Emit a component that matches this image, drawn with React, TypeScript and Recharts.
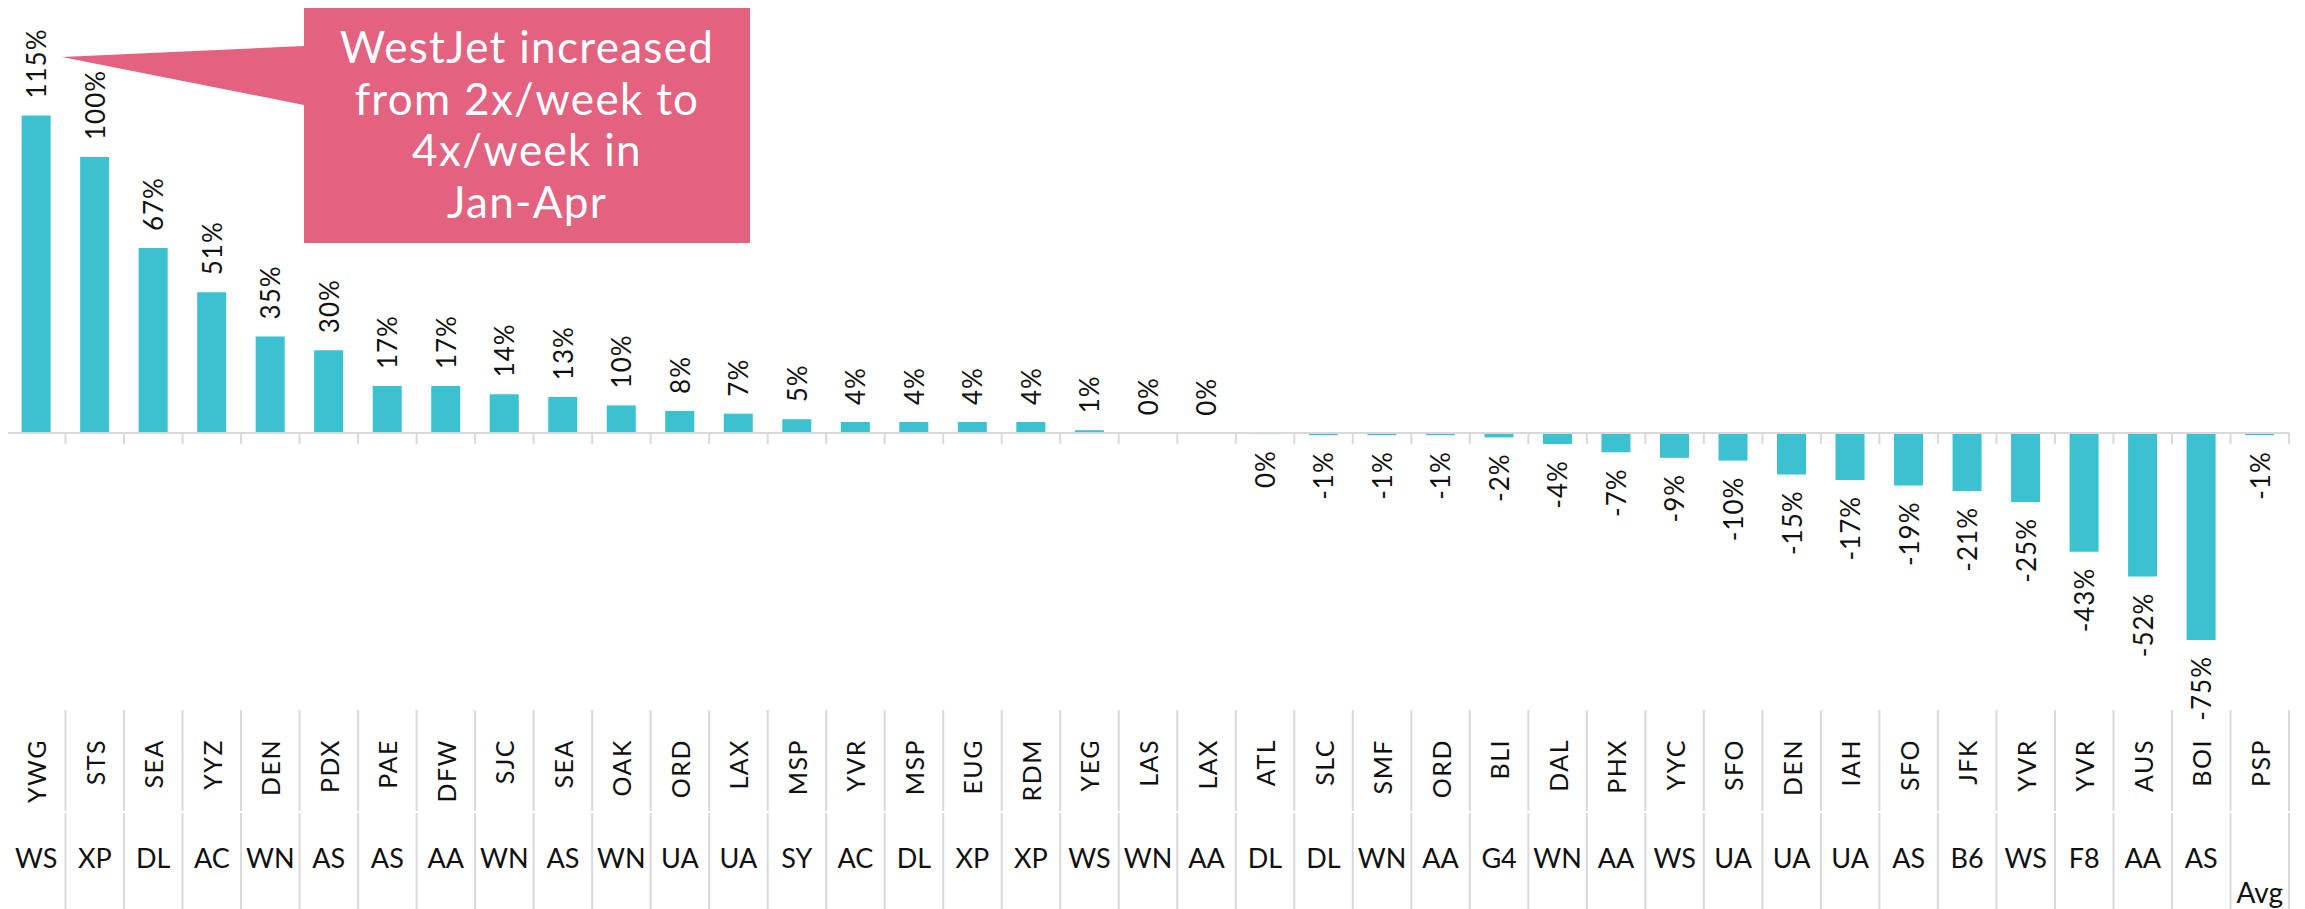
import React from "react";
import { BarChart, Bar, XAxis, YAxis, ReferenceLine, LabelList } from "recharts";

// route data, sorted by change
const airports = [
  "YWG", "STS", "SEA", "YYZ", "DEN", "PDX", "PAE", "DFW", "SJC", "SEA",
  "OAK", "ORD", "LAX", "MSP", "YVR", "MSP", "EUG", "RDM", "YEG", "LAS",
  "LAX", "ATL", "SLC", "SMF", "ORD", "BLI", "DAL", "PHX", "YYC", "SFO",
  "DEN", "IAH", "SFO", "JFK", "YVR", "YVR", "AUS", "BOI", "PSP",
];
const carriers = [
  "WS", "XP", "DL", "AC", "WN", "AS", "AS", "AA", "WN", "AS",
  "WN", "UA", "UA", "SY", "AC", "DL", "XP", "XP", "WS", "WN",
  "AA", "DL", "DL", "WN", "AA", "G4", "WN", "AA", "WS", "UA",
  "UA", "UA", "AS", "B6", "WS", "F8", "AA", "AS", "",
];
const changePct = [
  115, 100, 67, 51, 35, 30, 17, 17, 14, 13,
  10, 8, 7, 5, 4, 4, 4, 4, 1, 0.3,
  0.05, -0.4, -0.8, -0.8, -0.8, -1.6, -4, -7, -9, -10,
  -15, -17, -19, -21, -25, -43, -52, -75, -0.8,
];
const avgLabel = "Avg";
const calloutLines = ["WestJet increased", "from 2x/week to", "4x/week in", "Jan-Apr"];

const W = 2305;
const H = 909;
const PLOT_LEFT = 7;
const PLOT_RIGHT = 2289;
const ZERO_Y = 433;
const PLOT_BOTTOM = 710;
const PX_PER_PCT = 2.76;
const BAND = (PLOT_RIGHT - PLOT_LEFT) / airports.length;

const FONT = "Lato, 'Open Sans', sans-serif";
const BAR_COLOR = "#3BC1CF";
const GRID = "#d9d9d9";
const PINK = "#E2627F";

const data = airports.map((a, i) => ({
  key: String(i),
  airport: a,
  carrier: carriers[i],
  value: changePct[i],
}));

const renderTick = (props: any) => {
  const { x, index } = props;
  const left = x - BAND / 2;
  const right = x + BAND / 2;
  const last = index === airports.length - 1;
  return (
    <g>
      {/* boundary ticks under the zero line */}
      <line x1={left} y1={ZERO_Y} x2={left} y2={ZERO_Y + 11} stroke={GRID} strokeWidth={2} />
      {last && <line x1={right} y1={ZERO_Y} x2={right} y2={ZERO_Y + 11} stroke={GRID} strokeWidth={2} />}
      {/* table separators */}
      <line x1={left} y1={PLOT_BOTTOM} x2={left} y2={811} stroke={GRID} strokeWidth={2} />
      <line x1={left} y1={813} x2={left} y2={H} stroke={GRID} strokeWidth={2} />
      {last && <line x1={right} y1={PLOT_BOTTOM} x2={right} y2={811} stroke={GRID} strokeWidth={2} />}
      {last && <line x1={right} y1={813} x2={right} y2={H} stroke={GRID} strokeWidth={2} />}
      <text
        x={x}
        y={739}
        transform={`rotate(-90, ${x}, 739)`}
        textAnchor="end"
        dominantBaseline="central"
        fontFamily={FONT}
        fontSize={25}
        letterSpacing={1.5}
        fill="#111"
      >
        {airports[index]}
      </text>
      {carriers[index] ? (
        <text x={x} y={868} textAnchor="middle" fontFamily={FONT} fontSize={27} fill="#111">
          {carriers[index]}
        </text>
      ) : (
        <text x={x} y={903} textAnchor="middle" fontFamily={FONT} fontSize={28} fill="#111">
          {avgLabel}
        </text>
      )}
    </g>
  );
};

const renderValueLabel = (props: any) => {
  const { x, y, width, height, value } = props;
  const cx = x + width / 2;
  const top = Math.min(y, y + height);
  const bottom = Math.max(y, y + height);
  const above = value >= 0;
  const ly = above ? top - 17 : bottom + 16;
  return (
    <text
      x={cx}
      y={ly}
      transform={`rotate(-90, ${cx}, ${ly})`}
      textAnchor={above ? "start" : "end"}
      dominantBaseline="central"
      fontFamily={FONT}
      fontSize={26}
      letterSpacing={1}
      fill="#111"
    >
      {`${Math.round(value)}%`}
    </text>
  );
};

export default function App() {
  const yMax = ZERO_Y / PX_PER_PCT;
  const yMin = -(PLOT_BOTTOM - ZERO_Y) / PX_PER_PCT;
  return (
    <div style={{ position: "relative", width: W, height: H, marginLeft: -8, marginTop: -8, background: "#fff" }}>
      <BarChart
        width={W}
        height={H}
        data={data}
        margin={{ top: 0, right: W - PLOT_RIGHT, bottom: 0, left: PLOT_LEFT }}
        barCategoryGap="25%"
      >
        <YAxis hide domain={[yMin, yMax]} allowDataOverflow />
        <XAxis
          dataKey="key"
          height={H - PLOT_BOTTOM}
          axisLine={false}
          tickLine={false}
          interval={0}
          tick={renderTick}
        />
        <ReferenceLine y={0} stroke={GRID} strokeWidth={2} />
        <Bar dataKey="value" fill={BAR_COLOR} isAnimationActive={false}>
          <LabelList dataKey="value" content={renderValueLabel} />
        </Bar>
      </BarChart>
      <svg
        width={W}
        height={H}
        style={{ position: "absolute", left: 0, top: 0, pointerEvents: "none" }}
      >
        <polygon points="304,6 750,6 750,243 304,243 304,105 62,57 304,46" fill={PINK} />
        {calloutLines.map((line, i) => (
          <text
            key={i}
            x={527}
            y={63 + i * 51.5}
            textAnchor="middle"
            fontFamily={FONT}
            fontSize={44}
            letterSpacing={1.3}
            fill="#fff"
          >
            {line}
          </text>
        ))}
      </svg>
    </div>
  );
}
